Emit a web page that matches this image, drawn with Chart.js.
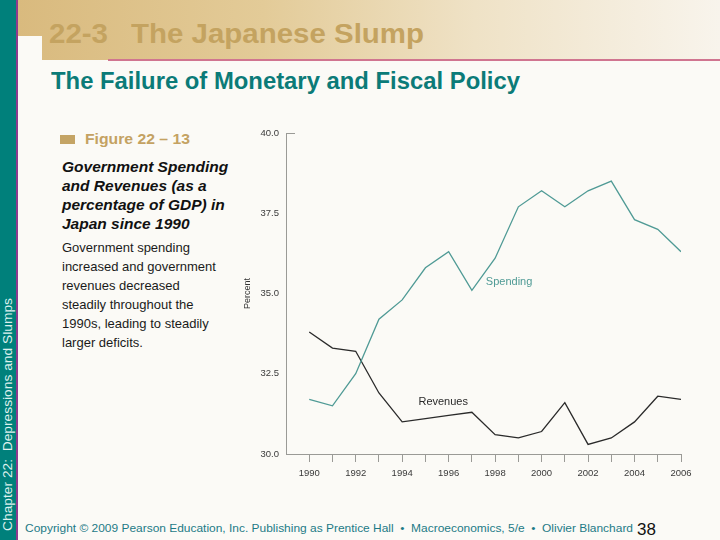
<!DOCTYPE html>
<html>
<head>
<meta charset="utf-8">
<script src="https://cdn.jsdelivr.net/npm/chart.js@4.4.1/dist/chart.umd.min.js"></script>
<style>
  body { margin: 0; width: 720px; height: 540px; position: relative; overflow: hidden;
         background: #fbfaf6; font-family: "Liberation Sans", Arial, sans-serif; }
  .abs { position: absolute; white-space: nowrap; }
  #sidebar { left: 0; top: 0; width: 16px; height: 540px; background: #00807b; }
  #rule { left: 16px; top: 0; width: 2px; height: 540px; background: #8c3b8e; }
  #banner { left: 18px; top: 0; width: 702px; height: 60px;
            background: linear-gradient(to right, #d9ba7e 0%, #e3cb98 35%, #efe2c6 65%, #f8f4ec 100%); }
  #notch { left: 18px; top: 36px; width: 24px; height: 24px; background: #fbfaf6; }
  #bannerLine { left: 108px; top: 59px; width: 612px; height: 2px; background: #d07590; }
  .title { font-weight: bold; font-size: 28px; line-height: 28px; color: #c4a360; top: 20px; transform-origin: left top; }
  #subtitle { left: 51px; top: 69px; font-weight: bold; font-size: 24px; line-height: 24px; color: #0b7b78; transform-origin: left top; }
  #figSquare { left: 60px; top: 135px; width: 15px; height: 9px; background: #c4a465; }
  #figLabel { left: 85px; top: 130px; font-weight: bold; font-size: 15px; line-height: 17px; color: #c4a262; transform-origin: left top; }
  #figTitle { left: 62px; top: 157px; font-weight: bold; font-style: italic; font-size: 15.5px; line-height: 19px; color: #111; }
  #figText { left: 62px; top: 238px; font-size: 13px; line-height: 19px; color: #1a1a1a; }
  #chapter { left: 1px; top: 531px; font-size: 13.5px; line-height: 14px; color: #dff0ee;
             transform: rotate(-90deg); transform-origin: left top; }
  #footer { left: 25px; top: 523px; font-size: 11px; line-height: 11px; color: #1d7a86; transform-origin: left top; }
  #page { left: 637px; top: 521px; font-size: 17px; line-height: 17px; color: #111; }
  #chartBox { left: 230px; top: 110px; width: 470px; height: 380px; }
</style>
</head>
<body>
<div id="sidebar" class="abs"></div>
<div id="rule" class="abs"></div>
<div id="banner" class="abs"></div>
<div id="notch" class="abs"></div>
<div id="bannerLine" class="abs"></div>
<div class="abs title fit" style="left:49px" data-w="59">22-3</div>
<div class="abs title fit" style="left:131px" data-w="293">The Japanese Slump</div>
<div id="subtitle" class="abs fit" data-w="469">The Failure of Monetary and Fiscal Policy</div>
<div id="figSquare" class="abs"></div>
<div id="figLabel" class="abs fit" data-w="105">Figure 22 – 13</div>
<div id="figTitle" class="abs">Government Spending<br>and Revenues (as a<br>percentage of GDP) in<br>Japan since 1990</div>
<div id="figText" class="abs">Government spending<br>increased and government<br>revenues decreased<br>steadily throughout the<br>1990s, leading to steadily<br>larger deficits.</div>
<div id="chapter" class="abs fit" data-w="233">Chapter 22:&nbsp; Depressions and Slumps</div>
<div id="footer" class="abs fit" data-w="608">Copyright © 2009 Pearson Education, Inc. Publishing as Prentice Hall &nbsp;•&nbsp; Macroeconomics, 5/e &nbsp;•&nbsp; Olivier Blanchard</div>
<div id="page" class="abs">38</div>
<div id="chartBox" class="abs"><canvas id="chart" width="470" height="380"></canvas></div>

<script>
// ── Data (percent of GDP) ──────────────────────────────────────────────────
const years    = [1990, 1991, 1992, 1993, 1994, 1995, 1996, 1997, 1998,
                  1999, 2000, 2001, 2002, 2003, 2004, 2005, 2006];
const spending = [31.7, 31.5, 32.5, 34.2, 34.8, 35.8, 36.3, 35.1, 36.1,
                  37.7, 38.2, 37.7, 38.2, 38.5, 37.3, 37.0, 36.3];
const revenues = [33.8, 33.3, 33.2, 31.9, 31.0, 31.1, 31.2, 31.3, 30.6,
                  30.5, 30.7, 31.6, 30.3, 30.5, 31.0, 31.8, 31.7];
const yTicks   = [30.0, 32.5, 35.0, 37.5, 40.0];

// Inline series names, anchored in data units.
const seriesNames = [
  { text: "Spending", x: 1997.6, y: 35.36, color: "#4f9a95" },
  { text: "Revenues", x: 1994.7, y: 31.63, color: "#2a2a2a" },
];

const AXIS = "#9a9a96";
const FONT = '"Liberation Sans", Arial, sans-serif';

// ── Squeeze text blocks to the widths measured on the slide ──────────────
document.querySelectorAll(".fit").forEach((el) => {
  const target = +el.dataset.w;
  const w = el.getBoundingClientRect();
  const natural = el.id === "chapter" ? w.height : w.width;
  const k = target / natural;
  if (el.id === "chapter") el.style.transform = `rotate(-90deg) scaleX(${k})`;
  else el.style.transform = `scaleX(${k})`;
});

// ── Plugin: top tick on the y axis + inline series labels ────────────────
const annotations = {
  id: "annotations",
  afterDatasetsDraw(chart) {
    const { ctx, scales: { x, y } } = chart;
    ctx.save();
    ctx.strokeStyle = AXIS;
    ctx.lineWidth = 1;
    const top = Math.round(y.getPixelForValue(yTicks[yTicks.length - 1])) + 0.5;
    ctx.beginPath();
    ctx.moveTo(x.left, top);
    ctx.lineTo(x.left + 9, top);
    ctx.stroke();

    ctx.font = "11px " + FONT;
    ctx.textBaseline = "middle";
    ctx.textAlign = "left";
    seriesNames.forEach((s) => {
      ctx.fillStyle = s.color;
      ctx.fillText(s.text, x.getPixelForValue(s.x), y.getPixelForValue(s.y));
    });
    ctx.restore();
  },
};

new Chart(document.getElementById("chart"), {
  type: "line",
  data: {
    datasets: [
      {
        label: "Spending",
        data: years.map((yr, i) => ({ x: yr, y: spending[i] })),
        borderColor: "#4f9a95",
        borderWidth: 1.3,
        pointRadius: 0,
        tension: 0,
      },
      {
        label: "Revenues",
        data: years.map((yr, i) => ({ x: yr, y: revenues[i] })),
        borderColor: "#2a2a2a",
        borderWidth: 1.3,
        pointRadius: 0,
        tension: 0,
      },
    ],
  },
  options: {
    responsive: false,
    animation: false,
    devicePixelRatio: 1,
    layout: { padding: { left: 0, top: 23, right: 19, bottom: 0 } },
    plugins: { legend: { display: false }, tooltip: { enabled: false } },
    scales: {
      x: {
        type: "linear",
        min: 1989,
        max: 2006,
        afterFit: (s) => { s.height = 36; },
        afterBuildTicks: (s) => {
          s.ticks = [1989].concat(years).map((v) => ({ value: v }));
        },
        grid: {
          drawOnChartArea: false,
          drawTicks: true,
          tickLength: 8,
          color: (c) => (c.tick && c.tick.value === 1989 ? "rgba(0,0,0,0)" : AXIS),
        },
        border: { display: true, color: AXIS, width: 1 },
        ticks: {
          autoSkip: false,
          maxRotation: 0,
          padding: 6,
          color: "#3a3a3a",
          font: { family: FONT, size: 9.5 },
          callback: (v) => (v >= 1990 && v % 2 === 0 ? String(v) : ""),
        },
      },
      y: {
        min: 30,
        max: 40,
        afterFit: (s) => { s.width = 56; },
        afterBuildTicks: (s) => {
          s.ticks = yTicks.map((v) => ({ value: v }));
        },
        grid: { display: false, drawTicks: false },
        border: { display: true, color: AXIS, width: 1 },
        ticks: {
          padding: 7,
          color: "#3a3a3a",
          font: { family: FONT, size: 9.5 },
          callback: (v) => v.toFixed(1),
        },
        title: {
          display: true,
          text: "Percent",
          color: "#333",
          font: { family: FONT, size: 9 },
          padding: { top: 12, bottom: 0 },
        },
      },
    },
  },
  plugins: [annotations],
});
</script>
</body>
</html>
